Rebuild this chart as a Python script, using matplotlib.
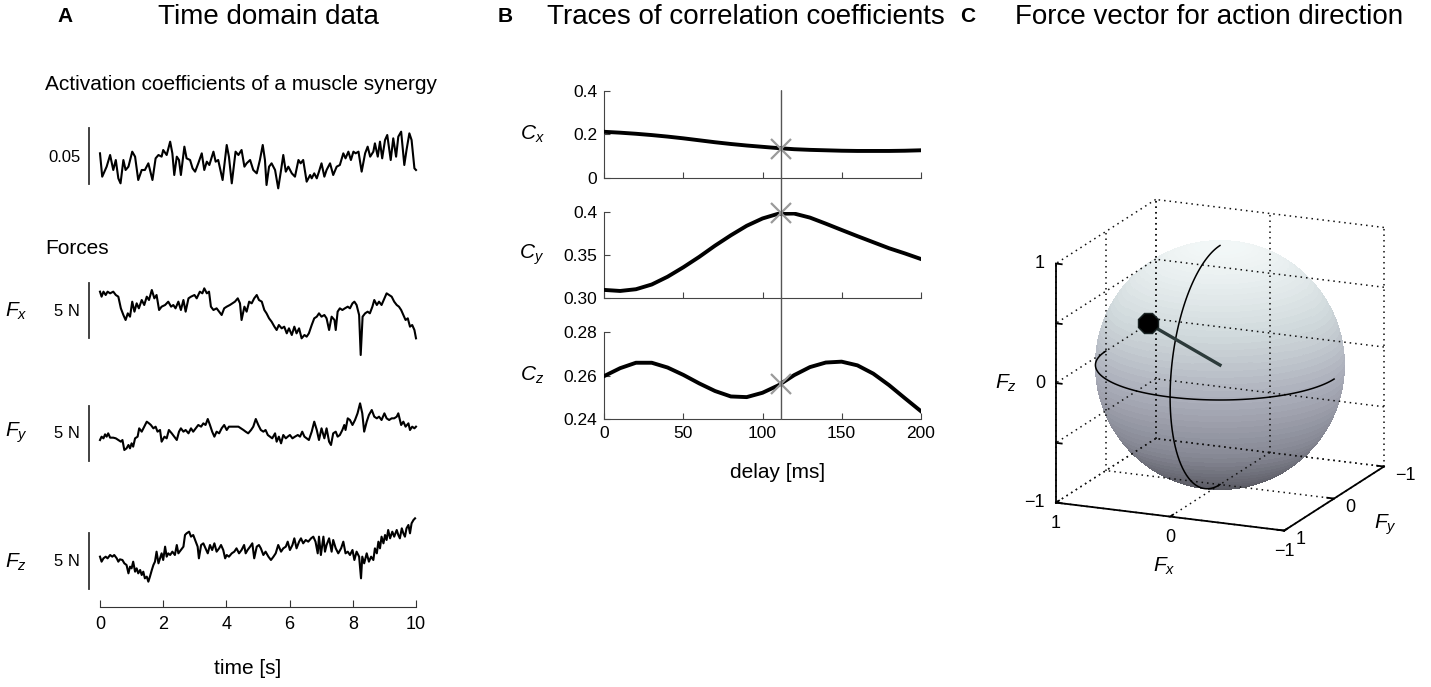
import numpy as np
import matplotlib
matplotlib.use('Agg')
import matplotlib.pyplot as plt
from matplotlib.colors import LinearSegmentedColormap
from matplotlib.patches import ConnectionPatch

plt.rcParams['font.family'] = ['Liberation Sans', 'DejaVu Sans']
plt.rcParams['mathtext.fontset'] = 'custom'
plt.rcParams['mathtext.rm'] = 'Liberation Sans'
plt.rcParams['mathtext.it'] = 'Liberation Sans:italic'
plt.rcParams['axes.unicode_minus'] = True

W, H = 1431, 687

# ---------------- data: panel A (time [s], value) ----------------
activation = [
    (0.00, 0.050), (0.07, 0.029), (0.21, 0.038), (0.32, 0.0485), (0.42, 0.035), (0.50, 0.044),
    (0.58, 0.0275), (0.65, 0.023), (0.74, 0.044), (0.81, 0.035), (0.90, 0.038), (1.02, 0.0515),
    (1.11, 0.047), (1.21, 0.026), (1.32, 0.035), (1.42, 0.035), (1.53, 0.041), (1.66, 0.026),
    (1.76, 0.0455), (1.85, 0.0485), (1.95, 0.047), (2.00, 0.053), (2.11, 0.0485), (2.22, 0.0605),
    (2.29, 0.050), (2.35, 0.0305), (2.43, 0.047), (2.50, 0.044), (2.56, 0.0305), (2.67, 0.056),
    (2.74, 0.0455), (2.85, 0.044), (2.93, 0.0365), (3.01, 0.0335), (3.11, 0.041), (3.22, 0.050),
    (3.30, 0.035), (3.38, 0.0425), (3.46, 0.0395), (3.59, 0.0515), (3.66, 0.0425), (3.74, 0.044),
    (3.88, 0.026), (4.01, 0.0575), (4.08, 0.047), (4.17, 0.023), (4.29, 0.0515), (4.38, 0.0485),
    (4.48, 0.053), (4.57, 0.038), (4.64, 0.041), (4.75, 0.044), (4.85, 0.035), (4.96, 0.032),
    (5.06, 0.044), (5.15, 0.0575), (5.22, 0.044), (5.27, 0.0215), (5.35, 0.038), (5.43, 0.041),
    (5.54, 0.035), (5.64, 0.0185), (5.73, 0.035), (5.80, 0.0485), (5.88, 0.0335), (5.96, 0.038),
    (6.07, 0.032), (6.17, 0.029), (6.28, 0.044), (6.35, 0.041), (6.43, 0.044), (6.54, 0.0245),
    (6.65, 0.0305), (6.70, 0.0275), (6.78, 0.032), (6.86, 0.0275), (6.93, 0.0335), (7.01, 0.041),
    (7.10, 0.029), (7.17, 0.035), (7.28, 0.041), (7.38, 0.0305), (7.49, 0.038), (7.59, 0.0395),
    (7.70, 0.050), (7.77, 0.0455), (7.86, 0.0515), (7.94, 0.044), (8.02, 0.0515), (8.09, 0.050),
    (8.18, 0.0515), (8.28, 0.0335), (8.39, 0.050), (8.47, 0.056), (8.55, 0.047), (8.65, 0.0515),
    (8.70, 0.059), (8.79, 0.047), (8.86, 0.0605), (8.93, 0.0455), (9.02, 0.062), (9.09, 0.0665),
    (9.20, 0.044), (9.28, 0.0635), (9.37, 0.047), (9.44, 0.065), (9.53, 0.0695), (9.63, 0.0395),
    (9.70, 0.053), (9.79, 0.068), (9.86, 0.062), (9.95, 0.0365), (10.00, 0.035),
]

force_x = [
    (0.00, 3.0), (0.05, 2.55), (0.11, 3.0), (0.18, 2.7), (0.24, 3.0), (0.32, 2.85), (0.42, 3.0),
    (0.50, 2.7), (0.58, 2.55), (0.66, 1.5), (0.74, 0.9), (0.81, 0.45), (0.88, 1.05), (0.95, 0.75),
    (1.02, 2.1), (1.09, 1.2), (1.16, 1.95), (1.23, 1.5), (1.32, 2.25), (1.40, 1.8), (1.48, 2.55),
    (1.55, 2.25), (1.64, 3.15), (1.72, 2.4), (1.79, 2.7), (1.87, 1.35), (1.95, 1.65), (2.06, 1.8),
    (2.16, 2.1), (2.25, 1.65), (2.32, 1.8), (2.39, 1.5), (2.48, 2.1), (2.56, 1.35), (2.64, 2.25),
    (2.71, 1.2), (2.80, 2.4), (2.88, 2.55), (2.99, 2.7), (3.06, 2.4), (3.16, 3.0), (3.24, 2.85),
    (3.30, 3.3), (3.38, 2.85), (3.45, 3.0), (3.51, 1.65), (3.59, 1.35), (3.69, 1.5), (3.77, 1.2),
    (3.85, 0.9), (3.93, 1.5), (4.01, 1.65), (4.11, 1.8), (4.19, 1.95), (4.27, 2.1), (4.36, 2.4),
    (4.43, 1.95), (4.48, 0.45), (4.57, 1.65), (4.64, 1.2), (4.72, 2.1), (4.80, 1.95), (4.88, 2.4),
    (4.96, 2.7), (5.03, 2.25), (5.12, 2.1), (5.20, 1.35), (5.27, 1.05), (5.35, 0.6), (5.43, 0.3),
    (5.52, -0.15), (5.59, -0.45), (5.66, 0.0), (5.75, -0.3), (5.83, -0.15), (5.91, -0.75),
    (5.98, -0.3), (6.07, -0.9), (6.15, -0.15), (6.22, -0.75), (6.30, -0.3), (6.38, -1.2),
    (6.47, -0.9), (6.54, -1.05), (6.61, -0.75), (6.70, 0.0), (6.78, 0.6), (6.86, 0.75),
    (6.93, 1.05), (7.01, 0.75), (7.10, 0.9), (7.17, 0.6), (7.25, -0.45), (7.33, 0.75),
    (7.42, 0.45), (7.46, -0.45), (7.52, 1.2), (7.59, 1.5), (7.67, 1.35), (7.75, 1.5), (7.84, 1.65),
    (7.91, 1.5), (7.99, 1.95), (8.05, 2.1), (8.12, 1.8), (8.20, 0.9), (8.25, -2.7), (8.31, 0.75),
    (8.39, 1.05), (8.47, 1.2), (8.54, 1.05), (8.62, 1.65), (8.68, 2.25), (8.76, 1.8), (8.83, 2.1),
    (8.91, 1.8), (9.00, 2.4), (9.07, 2.85), (9.15, 2.7), (9.23, 2.55), (9.31, 2.1), (9.39, 1.8),
    (9.46, 1.65), (9.53, 1.35), (9.60, 0.9), (9.67, 0.45), (9.74, 0.6), (9.81, -0.15), (9.88, 0.0),
    (9.95, -0.45), (10.00, -1.2),
]

force_y = [
    (0.00, -1.05), (0.05, -0.75), (0.11, -0.90), (0.16, -0.54), (0.21, -0.75), (0.26, -0.45),
    (0.32, -0.84), (0.42, -0.84), (0.50, -0.90), (0.58, -1.05), (0.66, -1.20), (0.71, -1.05),
    (0.77, -1.95), (0.84, -1.80), (0.90, -1.50), (0.95, -1.80), (1.00, -1.35), (1.05, -1.65),
    (1.11, -0.90), (1.19, -0.75), (1.24, 0.00), (1.32, -0.30), (1.40, 0.15), (1.48, 0.60),
    (1.55, 0.45), (1.61, 0.30), (1.69, 0.00), (1.76, 0.15), (1.82, -0.30), (1.90, -0.15),
    (1.95, -1.20), (2.04, -0.75), (2.11, -0.90), (2.18, -0.15), (2.27, -0.45), (2.35, -0.75),
    (2.43, -1.05), (2.50, -0.30), (2.56, 0.00), (2.64, -0.30), (2.71, -0.15), (2.80, -0.45),
    (2.88, 0.00), (2.95, -0.30), (3.03, 0.00), (3.11, 0.30), (3.20, 0.15), (3.27, 0.45),
    (3.34, 0.30), (3.41, 0.84), (3.48, 0.30), (3.55, -0.30), (3.62, -0.75), (3.69, -0.30),
    (3.77, -0.45), (3.85, 0.00), (3.93, 0.30), (4.01, -0.15), (4.08, 0.15), (4.17, 0.15),
    (4.27, 0.15), (4.38, 0.15), (4.46, 0.00), (4.54, -0.15), (4.61, -0.30), (4.69, -0.45),
    (4.78, -0.15), (4.85, 0.15), (4.93, 0.84), (5.01, 0.30), (5.09, -0.15), (5.17, -0.30),
    (5.24, -0.15), (5.31, -0.60), (5.38, -0.75), (5.45, -0.90), (5.54, -0.45), (5.59, -1.20),
    (5.66, -0.75), (5.73, -1.35), (5.80, -0.60), (5.88, -0.90), (5.94, -0.75), (6.01, -0.60),
    (6.09, -0.90), (6.17, -0.75), (6.26, -0.60), (6.33, -0.75), (6.40, -0.30), (6.47, -0.75),
    (6.54, -0.90), (6.61, -1.05), (6.70, -0.30), (6.78, 0.60), (6.86, -0.15), (6.93, -1.05),
    (7.01, 0.00), (7.10, -0.90), (7.17, 0.00), (7.25, -1.20), (7.31, -1.50), (7.38, -0.45),
    (7.46, -0.30), (7.52, -0.75), (7.59, -0.60), (7.67, -0.15), (7.73, 0.30), (7.77, -0.15),
    (7.84, 0.90), (7.91, 0.75), (7.99, 0.30), (8.07, 0.75), (8.15, 1.35), (8.23, 2.25),
    (8.30, 1.35), (8.36, -0.30), (8.44, 0.60), (8.51, 1.20), (8.60, 1.65), (8.68, 1.05),
    (8.76, 0.90), (8.83, 1.05), (8.91, 0.75), (9.00, 1.35), (9.07, 0.90), (9.15, 0.75),
    (9.23, 0.90), (9.31, 0.90), (9.39, 1.05), (9.44, 1.35), (9.53, 0.30), (9.60, 0.60),
    (9.67, 0.15), (9.76, 0.45), (9.81, -0.15), (9.88, 0.15), (9.95, 0.00), (10.00, 0.15),
]

force_z = [
    (0.00, 0.30), (0.05, -0.15), (0.11, 0.15), (0.18, 0.30), (0.24, 0.15), (0.32, 0.45),
    (0.39, 0.30), (0.45, 0.45), (0.53, 0.15), (0.58, -0.15), (0.63, 0.06), (0.71, 0.00),
    (0.77, -0.30), (0.84, -0.45), (0.90, -1.20), (0.95, -0.60), (1.00, -0.75), (1.05, -0.15),
    (1.11, -1.05), (1.16, -0.75), (1.21, -1.20), (1.27, -0.90), (1.32, -1.35), (1.37, -1.05),
    (1.42, -1.65), (1.48, -1.50), (1.53, -1.95), (1.58, -1.50), (1.64, -0.90), (1.69, -0.45),
    (1.74, -0.15), (1.79, 0.75), (1.85, -0.30), (1.90, 0.15), (1.95, 0.60), (2.00, 0.00),
    (2.06, 1.20), (2.11, 0.30), (2.16, 0.60), (2.22, 0.45), (2.29, 0.75), (2.37, 0.45),
    (2.43, 1.35), (2.48, 0.60), (2.56, 0.90), (2.64, 1.20), (2.69, 2.25), (2.74, 2.40),
    (2.82, 2.55), (2.88, 2.10), (2.95, 2.25), (3.03, 1.65), (3.09, 1.20), (3.13, 0.15),
    (3.20, 1.35), (3.27, 1.50), (3.34, 1.05), (3.41, 0.60), (3.48, 1.35), (3.55, 0.90),
    (3.62, 1.50), (3.69, 0.75), (3.77, 1.05), (3.83, 1.35), (3.90, 0.90), (3.96, 0.15),
    (4.01, 0.45), (4.08, 0.30), (4.17, 0.60), (4.25, 0.75), (4.32, 1.05), (4.40, 0.60),
    (4.48, 0.90), (4.56, 1.35), (4.61, 0.60), (4.67, 0.90), (4.75, 1.20), (4.82, 1.50),
    (4.88, 0.15), (4.96, 1.20), (5.03, 1.35), (5.09, 1.05), (5.17, 0.45), (5.24, 0.75),
    (5.33, 0.30), (5.41, 0.00), (5.49, 0.30), (5.56, 0.60), (5.64, 1.35), (5.73, 0.75),
    (5.80, 1.05), (5.88, 1.20), (5.94, 1.65), (6.01, 0.90), (6.09, 1.35), (6.15, 1.95),
    (6.22, 1.05), (6.30, 1.65), (6.36, 1.95), (6.43, 1.50), (6.51, 1.80), (6.59, 1.65),
    (6.68, 1.95), (6.75, 2.10), (6.82, 1.65), (6.89, 0.60), (6.93, 2.10), (6.99, 0.45),
    (7.07, 2.10), (7.12, 0.75), (7.17, 1.35), (7.25, 1.95), (7.33, 0.75), (7.38, 1.80),
    (7.46, 1.05), (7.54, 0.60), (7.63, 1.05), (7.70, 1.65), (7.77, 0.60), (7.84, 0.75),
    (7.91, 0.45), (7.99, 0.90), (8.05, 0.00), (8.12, 0.75), (8.20, 0.30), (8.26, -1.65),
    (8.30, 0.30), (8.36, -0.30), (8.44, 0.60), (8.51, -0.15), (8.58, 0.30), (8.65, 0.00),
    (8.70, 1.05), (8.76, 0.60), (8.81, 1.65), (8.86, 1.05), (8.91, 2.10), (8.97, 1.50),
    (9.02, 2.25), (9.07, 1.80), (9.12, 2.70), (9.18, 1.95), (9.25, 2.55), (9.31, 2.10),
    (9.39, 2.70), (9.44, 2.25), (9.49, 1.95), (9.55, 2.85), (9.60, 2.40), (9.65, 2.10),
    (9.70, 2.85), (9.76, 3.15), (9.81, 2.40), (9.86, 3.30), (9.92, 3.60), (9.97, 3.75),
]

time_ticks = [0, 2, 4, 6, 8, 10]

# ---------------- data: panel B ----------------
delay_ms = [0, 10, 20, 30, 40, 50, 60, 70, 80, 90, 100, 110, 120, 130, 140, 150, 160, 170, 180, 190, 200]
corr_x = [0.211, 0.207, 0.202, 0.196, 0.189, 0.181, 0.172, 0.163, 0.155, 0.148, 0.142, 0.136,
          0.131, 0.128, 0.126, 0.124, 0.123, 0.123, 0.123, 0.124, 0.126]
corr_y = [0.3097, 0.3085, 0.3105, 0.3160, 0.3250, 0.3360, 0.3480, 0.3610, 0.3730, 0.3840,
          0.3925, 0.3980, 0.3982, 0.3935, 0.3865, 0.3792, 0.3720, 0.3650, 0.3580, 0.3520, 0.3456]
corr_z = [0.2599, 0.2635, 0.2660, 0.2660, 0.2638, 0.2604, 0.2565, 0.2530, 0.2505, 0.2502,
          0.2522, 0.2556, 0.2603, 0.2640, 0.2661, 0.2665, 0.2648, 0.2610, 0.2557, 0.2497, 0.2438]
best_delay = 112
best_corr = [0.133, 0.399, 0.2562]
delay_ticks = [0, 50, 100, 150, 200]

# ---------------- data: panel C ----------------
force_dir = [0.28, 0.80, 0.53]
box_ticks = [-1, 0, 1]
z_grid = [-1, -0.5, 0, 0.5, 1]


def rect(x0, y0, x1, y1):
    # pixel box (top-left origin) -> figure fraction
    return [x0 / W, 1 - y1 / H, (x1 - x0) / W, (y1 - y0) / H]


def ftext(x, y, s, **kw):
    fig.text(x / W, 1 - y / H, s, **kw)


fig = plt.figure(figsize=(W / 100, H / 100), dpi=100)

# ================= panel A =================
traces = [
    (activation, 110, 200, (0.008, 0.089), (0.0225, 0.0725)),
    (force_x, 270, 360, (-3.15, 4.95), (-1.2, 3.8)),
    (force_y, 390, 480, (-4.65, 3.45), (-2.95, 2.05)),
    (force_z, 505, 600, (-3.6, 4.95), (-2.6, 2.4)),
]
for pts, top, bot, ylim, bar in traces:
    ax = fig.add_axes(rect(84.2, top, 416, bot))
    t, v = zip(*pts)
    ax.plot(t, v, color='black', lw=1.5, clip_on=False)
    ax.plot([-0.35, -0.35], bar, color='#333333', lw=1.3, clip_on=False)
    ax.set_xlim(-0.5, 10)
    ax.set_ylim(*ylim)
    ax.axis('off')

tax = fig.add_axes(rect(84.2, 596.7, 416, 606.7))
tax.patch.set_visible(False)
for s in ['top', 'left', 'right']:
    tax.spines[s].set_visible(False)
tax.spines['bottom'].set_bounds(0, 10)
tax.spines['bottom'].set_color('#333333')
tax.set_xlim(-0.5, 10)
tax.set_xticks(time_ticks)
tax.set_xticklabels([str(v) for v in time_ticks])
tax.set_yticks([])
tax.tick_params(axis='x', direction='in', length=5, pad=7, labelsize=13, color='#333333')

ftext(65, 17, 'A', fontsize=15, fontweight='bold', ha='center', va='center')
ftext(268, 17, 'Time domain data', fontsize=20, ha='center', va='center')
ftext(45, 85, 'Activation coefficients of a muscle synergy', fontsize=15, ha='left', va='center')
ftext(45, 248, 'Forces', fontsize=15, ha='left', va='center')
ftext(81, 157, '0.05', fontsize=12, ha='right', va='center')
for y, lab in [(311, r'$F_x$'), (433, r'$F_y$'), (562, r'$F_z$')]:
    ftext(80, y, '5 N', fontsize=12, ha='right', va='center')
    ftext(5, y, lab, fontsize=15, ha='left', va='center')
ftext(248, 668, 'time [s]', fontsize=15, ha='center', va='center')

# ================= panel B =================
b_specs = [
    (corr_x, 90.7, 177.7, (0, 0.4), [0, 0.2, 0.4], ['0', '0.2', '0.4'], r'$C_x$', 0.2),
    (corr_y, 212.0, 298.3, (0.30, 0.40), [0.30, 0.35, 0.40], ['0.30', '0.35', '0.4'], r'$C_y$', 0.35),
    (corr_z, 332.3, 419.3, (0.24, 0.28), [0.24, 0.26, 0.28], ['0.24', '0.26', '0.28'], r'$C_z$', 0.26),
]
b_axes = []
for i, (vals, top, bot, ylim, yt, ytl, lab, laby) in enumerate(b_specs):
    ax = fig.add_axes(rect(604.3, top, 920.7, bot))
    ax.plot(delay_ms, vals, color='black', lw=2.8, solid_joinstyle='round', zorder=3)
    ax.plot([best_delay], [best_corr[i]], marker='x', ms=15, mew=1.6, color='#9a9a9a',
            ls='none', zorder=4, clip_on=False)
    ax.set_xlim(0, 200)
    ax.set_ylim(*ylim)
    ax.set_yticks(yt)
    ax.set_yticklabels(ytl)
    ax.set_xticks(delay_ticks)
    if i < 2:
        ax.set_xticklabels([])
    else:
        ax.set_xticklabels([str(v) for v in delay_ticks])
    for s in ['top', 'right']:
        ax.spines[s].set_visible(False)
    for s in ['left', 'bottom']:
        ax.spines[s].set_color('#444444')
    ax.tick_params(direction='in', length=4, labelsize=12.5, color='#444444', pad=5)
    ax.patch.set_visible(False)
    ax.text(-0.2285, laby, lab, transform=ax.get_yaxis_transform(), fontsize=15,
            ha='center', va='center')
    b_axes.append(ax)

vline = ConnectionPatch(xyA=(best_delay, 0.4), coordsA=b_axes[0].transData,
                        xyB=(best_delay, 0.24), coordsB=b_axes[2].transData,
                        color='#555555', lw=1.0, zorder=2)
fig.add_artist(vline)

ftext(505, 16, 'B', fontsize=15, fontweight='bold', ha='center', va='center')
ftext(746, 17, 'Traces of correlation coefficients', fontsize=20, ha='center', va='center')
ftext(778, 472, 'delay [ms]', fontsize=15, ha='center', va='center')

# ================= panel C =================
S = 418.8
ax3 = fig.add_axes([1004.9 / W, 106.9 / H, S / W, S / H], projection='3d')
ax3.set_proj_type('ortho')
ax3.view_init(elev=16.3, azim=113.6)
ax3.set_xlim(-1, 1)
ax3.set_ylim(-1, 1)
ax3.set_zlim(-1, 1)
ax3.set_box_aspect((1, 1, 1))
ax3.set_axis_off()
ax3.patch.set_alpha(0)
ax3.computed_zorder = False

# sphere shaded by height
cmap = LinearSegmentedColormap.from_list(
    'sph', ['#4f4f57', '#85879380', '#a9acb8', '#cfd8db', '#f2f7f7'])
u = np.linspace(0, 2 * np.pi, 90)
w = np.linspace(0, np.pi, 60)
X = np.outer(np.cos(u), np.sin(w))
Y = np.outer(np.sin(u), np.sin(w))
Z = np.outer(np.ones_like(u), np.cos(w))
fc = cmap((Z + 1) / 2)
fc[..., 3] = 1.0
ax3.plot_surface(X, Y, Z, facecolors=fc, shade=False, rstride=1, cstride=1,
                 linewidth=0, antialiased=False, zorder=1)

# dotted grid on the back planes
gkw = dict(color='#111111', lw=1.1, ls=(0, (1, 2.6)), zorder=2)
for yv in box_ticks:
    ax3.plot([1, 1], [yv, yv], [-1, 1], **gkw)
for zv in z_grid:
    ax3.plot([1, 1], [-1, 1], [zv, zv], **gkw)
    ax3.plot([-1, 1], [-1, -1], [zv, zv], **gkw)
for xv in box_ticks:
    ax3.plot([xv, xv], [-1, -1], [-1, 1], **gkw)
    ax3.plot([xv, xv], [-1, 1], [-1, -1], **gkw)
for yv in box_ticks:
    ax3.plot([-1, 1], [yv, yv], [-1, -1], **gkw)

# solid axis lines with inward ticks
akw = dict(color='black', lw=1.3, zorder=3)
ax3.plot([1, 1], [1, 1], [-1, 1], **akw)
ax3.plot([-1, 1], [1, 1], [-1, -1], **akw)
ax3.plot([-1, -1], [-1, 1], [-1, -1], **akw)
for zv in z_grid:
    ax3.plot([1, 0.95], [1, 1], [zv, zv], **akw)
for xv in box_ticks:
    ax3.plot([xv, xv], [1, 0.94], [-1, -1], **akw)
for yv in box_ticks:
    ax3.plot([-1, -0.94], [yv, yv], [-1, -1], **akw)

# front half great circles
tt = np.linspace(0, np.pi, 120)
ax3.plot(np.cos(tt), np.sin(tt), np.zeros_like(tt), color='black', lw=1.1, zorder=4)
tm = np.linspace(-np.pi / 2, np.pi / 2, 120)
ax3.plot(np.zeros_like(tm), np.cos(tm), np.sin(tm), color='black', lw=1.1, zorder=4)

# force direction vector
ax3.plot([0, force_dir[0]], [0, force_dir[1]], [0, force_dir[2]], color='#2c3a3a', lw=2.4,
         zorder=5)
ax3.plot([force_dir[0]], [force_dir[1]], [force_dir[2]], marker='8', ms=16, color='black',
         mec='#1a2424', ls='none', zorder=6)

# labels placed at projected 3D positions
M3 = ax3.get_proj()


def text3(x, y, z, s, **kw):
    p = M3 @ np.array([x, y, z, 1.0])
    ax3.text2D(p[0] / p[3], p[1] / p[3], s, transform=ax3.transData, **kw)


def fmt(v):
    return f'{v}'.replace('-', '\u2212')


for zv in box_ticks:
    text3(1.08, 1.035, zv, fmt(zv), ha='right', va='center', fontsize=13)
for xv in box_ticks:
    text3(xv, 1, -1.1, fmt(xv), ha='center', va='top', fontsize=13)
for yv in box_ticks:
    text3(-1.1, yv, -1.06, fmt(yv), ha='left', va='center', fontsize=13)
text3(1.37, 1.16, 0, r'$F_z$', ha='center', va='center', fontsize=15)
text3(0.05, 1, -1.42, r'$F_x$', ha='center', va='center', fontsize=15)
text3(-1.45, 0, -1.17, r'$F_y$', ha='center', va='center', fontsize=15)

ftext(968, 16, 'C', fontsize=15, fontweight='bold', ha='center', va='center')
ftext(1209, 17, 'Force vector for action direction', fontsize=20, ha='center', va='center')

fig.savefig('out.png', dpi=100)
